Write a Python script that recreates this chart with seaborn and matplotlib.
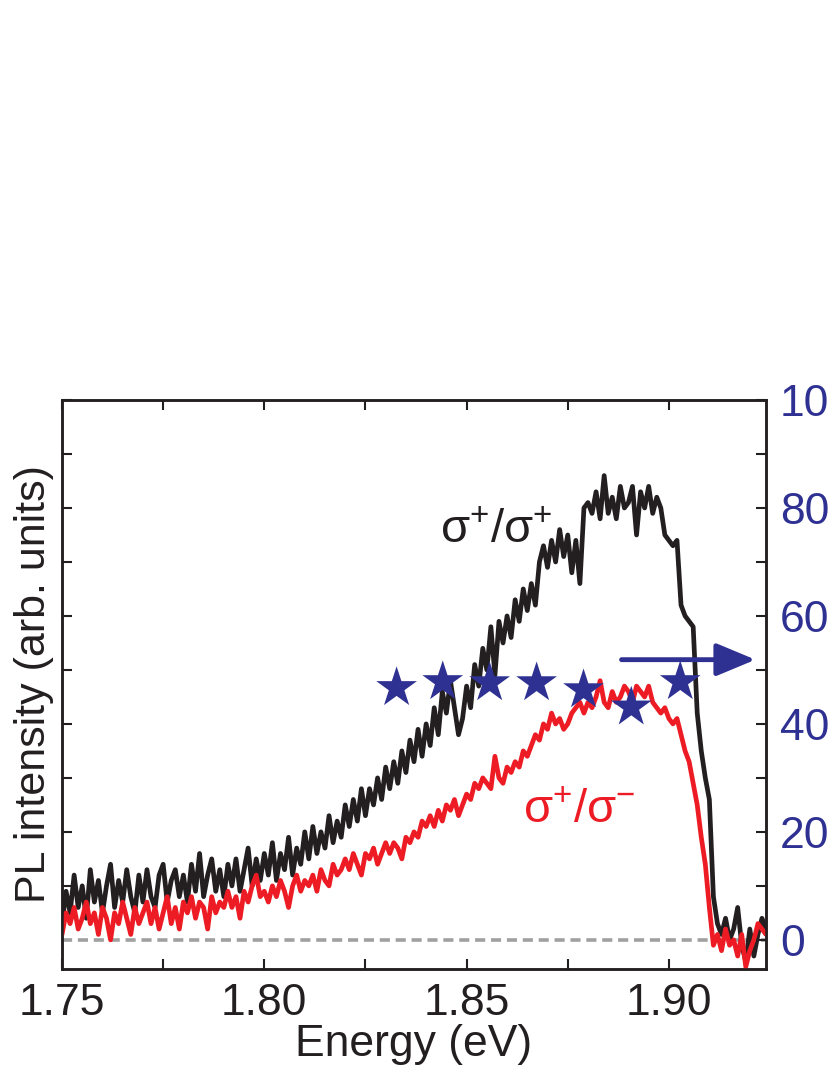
import numpy as np
import pandas as pd
import matplotlib
matplotlib.use("Agg")
import matplotlib.pyplot as plt
import seaborn as sns

# PL spectra, 1 meV steps from 1.750 eV
energy = np.round(np.arange(1750, 1925) / 1000.0, 3)

pl_copol = [3, 9, 5, 12, 6, 10, 4, 13, 7, 11, 5,
            10, 14, 6, 11, 7, 13, 8, 5, 12, 7,
            13, 8, 6, 12, 14, 7, 11, 13, 8, 12,
            7, 14, 9, 16, 8, 12, 15, 9, 13, 8,
            14, 10, 15, 9, 13, 17, 10, 15, 11, 16,
            12, 18, 11, 16, 13, 19, 12, 17, 14, 20,
            15, 21, 16, 20, 17, 23, 18, 22, 19, 25,
            21, 26, 22, 28, 23, 28, 25, 30, 26, 32,
            28, 33, 29, 35, 31, 37, 33, 39, 34, 40,
            36, 43, 38, 46, 42, 48, 43, 38, 41, 47,
            43, 51, 47, 54, 50, 58, 49, 59, 55, 60,
            56, 63, 59, 65, 61, 66, 62, 70, 73, 69,
            74, 70, 76, 71, 75, 68, 74, 66, 80, 81,
            79, 83, 78, 86, 79, 82, 78, 84, 80, 81,
            84, 75, 83, 80, 84, 79, 82, 80, 75, 74,
            73, 74, 62, 60, 59, 58, 42, 35, 30, 26,
            8, 3, 1, 4, 0, 2, 6, -1, -4, 2,
            -3, 1, 4, 2]

pl_cross = [1, 5, 3, 6, 2, 4, 7, 3, 5, 1, 6,
            4, 0, 5, 3, 7, 4, 1, 6, 3, 5,
            7, 3, 6, 2, 5, 8, 3, 6, 2, 7,
            5, 8, 4, 7, 6, 2, 8, 5, 7, 6,
            9, 6, 8, 4, 9, 7, 10, 12, 8, 9,
            7, 10, 8, 11, 9, 6, 10, 12, 9, 11,
            10, 12, 9, 13, 11, 10, 14, 12, 13, 15,
            13, 16, 14, 12, 16, 15, 17, 14, 16, 18,
            16, 18, 17, 15, 19, 18, 20, 19, 22, 21,
            23, 21, 24, 22, 25, 24, 26, 23, 25, 27,
            26, 29, 28, 30, 29, 28, 34, 30, 29, 32,
            31, 33, 32, 35, 34, 36, 38, 37, 40, 39,
            42, 40, 41, 39, 40, 42, 43, 44, 42, 44,
            43, 45, 48, 44, 43, 46, 44, 45, 47, 46,
            44, 47, 46, 45, 47, 44, 43, 42, 43, 41,
            40, 41, 38, 35, 33, 29, 25, 19, 14, 6,
            -1, 1, -2, 2, -1, 0, -3, 1, -5, -2,
            0, 3, 2, 1]

# polarization points (right axis)
star_energy = [1.8327, 1.8441, 1.8557, 1.8673, 1.8789, 1.8907, 1.9028]
star_pol = [46.7, 47.8, 47.6, 47.6, 46.3, 43.1, 47.8]

xticks = [1.75, 1.80, 1.85, 1.90]
xticklabels = ["1.75", "1.80", "1.85", "1.90"]
yticks_right = [0, 20, 40, 60, 80, 100]

black = "#231f20"
red = "#ed1c24"
blue = "#2e3192"

sns.set_style("ticks")
plt.rcParams['font.family'] = ['Liberation Sans', 'DejaVu Sans']
plt.rcParams['mathtext.default'] = 'regular'

df = pd.DataFrame({"energy": energy, "copol": pl_copol, "cross": pl_cross})
stars = pd.DataFrame({"energy": star_energy, "pol": star_pol})

fig = plt.figure(figsize=(8.3, 10.75), dpi=100)
ax = fig.add_axes([0.0747, 0.0986, 0.8482, 0.5293])
ax2 = ax.twinx()

ax.axhline(0, color="#a0a0a0", lw=2.6, ls=(0, (2.8, 1.6)), zorder=1)
sns.lineplot(x="energy", y="copol", data=df, color=black, lw=3.4, ax=ax, zorder=3)
sns.lineplot(x="energy", y="cross", data=df, color=red, lw=3.4, ax=ax, zorder=4)
sns.scatterplot(x="energy", y="pol", data=stars, marker="*", s=950, color=blue,
                edgecolor="none", ax=ax2, zorder=5)

ax2.annotate("", xy=(1.9214, 51.9), xytext=(1.8883, 51.9),
             arrowprops=dict(arrowstyle="-|>,head_length=0.6,head_width=0.25",
                             lw=3.5, color=blue, mutation_scale=40, shrinkA=0, shrinkB=0))

ax.text(1.8435, 73.5, r"$σ^{+}/σ^{+}$", color=black, fontsize=34, va="baseline")
ax.text(1.8640, 21.7, r"$σ^{+}/σ^{-}$", color=red, fontsize=34, va="baseline")

for a in (ax, ax2):
    a.set_xlim(1.75, 1.924)
    a.set_ylim(-5.4, 100)
    for s in a.spines.values():
        s.set_visible(True)
        s.set_linewidth(1.8)
        s.set_color(black)

ax.set_xticks(xticks)
ax.set_xticklabels(xticklabels)
ax.set_xticks([1.775, 1.825, 1.875], minor=True)
ax.set_yticks(np.arange(0, 101, 10))
ax.set_yticklabels([])
ax.tick_params(axis="both", which="both", direction="in", length=7, width=1.5,
               top=True, right=False, colors=black)
ax.tick_params(axis="x", labelsize=32, pad=10)

ax2.set_yticks(np.arange(0, 101, 10))
ax2.set_yticklabels([str(v) if v in yticks_right else "" for v in range(0, 101, 10)])
ax2.tick_params(axis="y", direction="in", length=7, width=1.5, color=black,
                labelcolor=blue, labelsize=32, pad=10)
ax2.set_ylabel("")

ax.set_xlabel("Energy (eV)", fontsize=32, color=black, labelpad=0)
ax.set_ylabel("PL intensity (arb. units)", fontsize=31, color=black, labelpad=2)

fig.savefig("out.png", dpi=100)
